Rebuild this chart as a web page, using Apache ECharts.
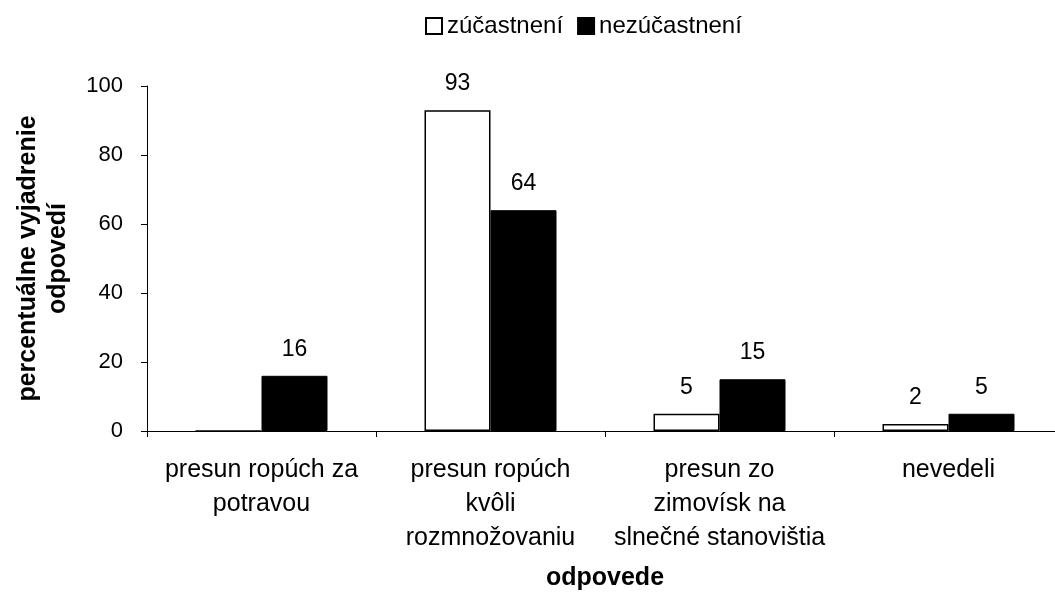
<!DOCTYPE html>
<html>
<head>
<meta charset="utf-8">
<script src="https://cdn.jsdelivr.net/npm/echarts@6/dist/echarts.min.js"></script>
<style>
html,body{margin:0;padding:0;background:#fff;}
#chart{width:1055px;height:594px;}
</style>
</head>
<body>
<div id="chart"></div>
<script>
const categories = ["presun ropúch za\npotravou", "presun ropúch\nkvôli\nrozmnožovaniu", "presun zo\nzimovísk na\nslnečné stanovištia", "nevedeli"];
const seriesNames = ["zúčastnení", "nezúčastnení"];
const zucastneni = [0, 93, 5, 2];
const nezucastneni = [16, 64, 15, 5];
const yTicks = {min: 0, max: 100, interval: 20};

const font = "Liberation Sans, Arial, sans-serif";
const chart = echarts.init(document.getElementById('chart'));
const labelCfg = {
  show: true, position: 'top', distance: 15,
  fontFamily: font, fontSize: 23, color: '#000',
  formatter: p => (p.value === 0 ? '' : String(p.value))
};
chart.setOption({
  animation: false,
  backgroundColor: '#fff',
  textStyle: {fontFamily: font},
  legend: {
    top: 14, left: 425, padding: 0,
    itemWidth: 16, itemHeight: 16, itemGap: 14,
    icon: 'rect',
    textStyle: {fontFamily: font, fontSize: 24, color: '#000', padding: [0, 0, 0, 0]},
    data: seriesNames
  },
  grid: {left: 147, right: -8, top: 86, bottom: 163, outerBoundsMode: 'none', containLabel: false},
  xAxis: {
    type: 'category',
    data: categories,
    axisLine: {lineStyle: {color: '#000', width: 1}},
    axisTick: {show: true, length: 6, lineStyle: {color: '#000'}},
    axisLabel: {fontFamily: font, fontSize: 25, color: '#000', lineHeight: 34, margin: 22, interval: 0},
    name: 'odpovede', nameLocation: 'middle', nameGap: 135,
    nameTextStyle: {fontFamily: font, fontSize: 25, fontWeight: 'bold', color: '#000'}
  },
  yAxis: {
    type: 'value', min: yTicks.min, max: yTicks.max, interval: yTicks.interval,
    axisLine: {show: true, lineStyle: {color: '#000', width: 1}},
    axisTick: {show: true, length: 6, lineStyle: {color: '#000'}},
    splitLine: {show: false},
    axisLabel: {fontFamily: font, fontSize: 22, color: '#000', margin: 24},
    name: 'percentuálne vyjadrenie\nodpovedí', nameLocation: 'middle', nameGap: 74,
    nameTextStyle: {fontFamily: font, fontSize: 25, fontWeight: 'bold', color: '#000', lineHeight: 30}
  },
  series: [
    {
      name: seriesNames[0], type: 'bar', data: zucastneni,
      barWidth: 66, barGap: '0%',
      itemStyle: {color: '#fff', borderColor: '#000', borderWidth: 1.5},
      label: labelCfg
    },
    {
      name: seriesNames[1], type: 'bar', data: nezucastneni,
      barWidth: 66, barGap: '0%',
      itemStyle: {color: '#000', borderColor: '#000', borderWidth: 1},
      label: labelCfg
    }
  ]
});
</script>
</body>
</html>
